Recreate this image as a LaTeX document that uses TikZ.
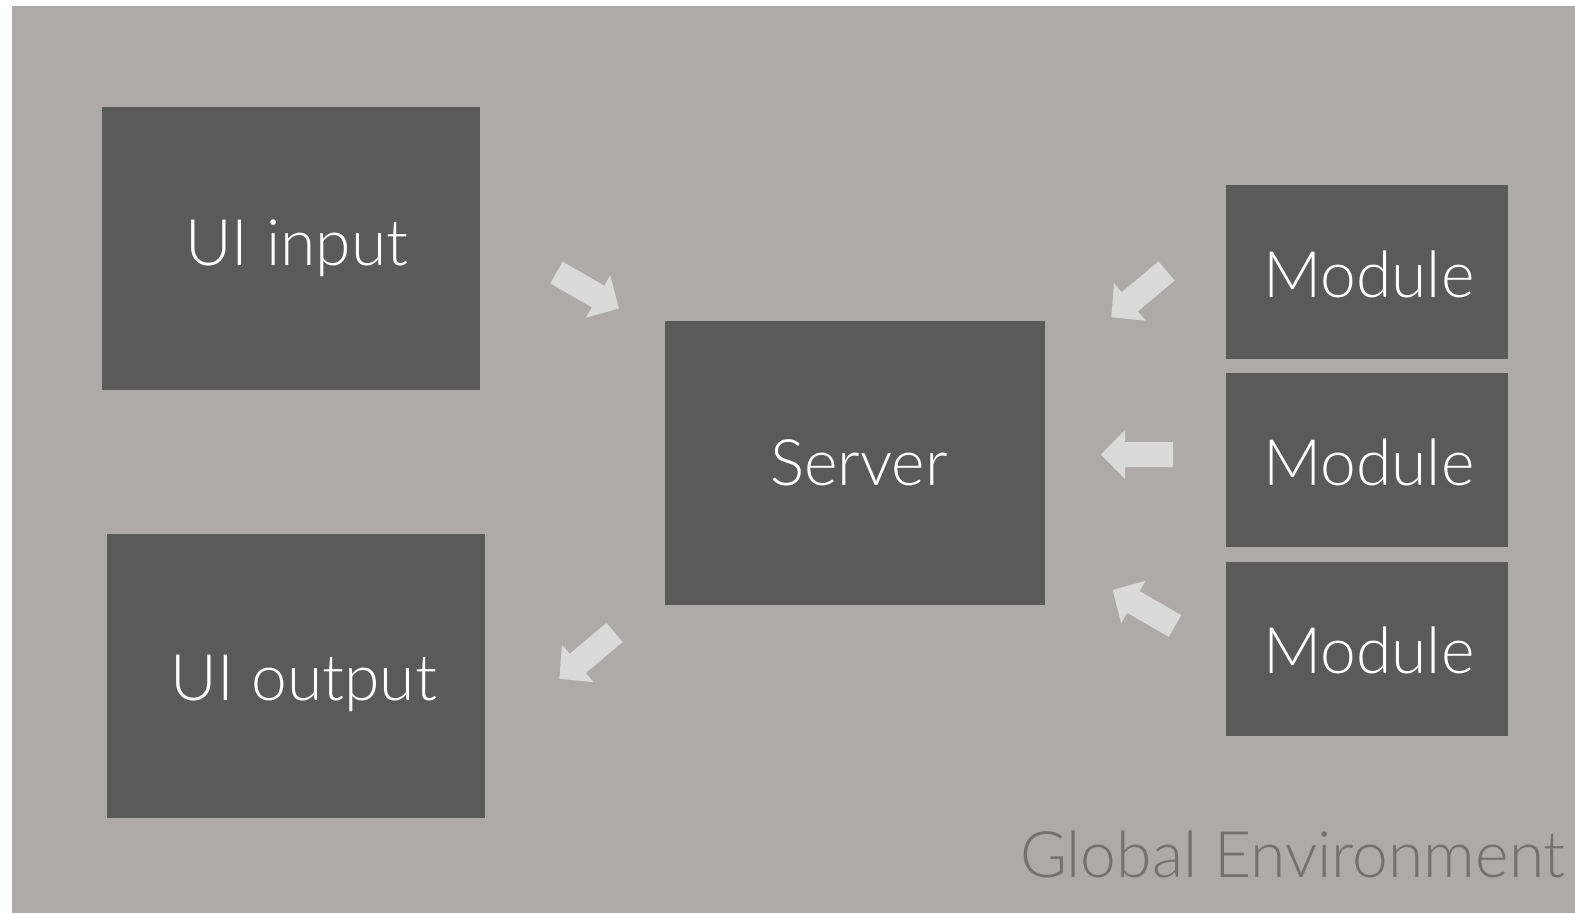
\documentclass[tikz,border=0pt]{standalone}
\usepackage{fontspec}
\IfFontExistsTF{Lato Light}{\setmainfont{Lato Light}}{\setmainfont{Lato}}
\usepackage{tikz}

\definecolor{envgray}{RGB}{174,170,169}
\definecolor{boxgray}{RGB}{90,90,90}
\definecolor{arrowgray}{RGB}{218,218,218}
\definecolor{labelgray}{RGB}{115,112,111}

\begin{document}
\begin{tikzpicture}
[x=0.02cm, y=-0.02cm,
 lbl/.style={text=white, inner sep=0pt, font=\fontsize{36.5}{40}\selectfont},
 block/.style={rectangle, fill=boxgray, inner sep=0pt},
 bigblock/.style={block, minimum width=7.57cm, minimum height=5.67cm},
 modblock/.style={block, minimum width=5.65cm, minimum height=3.48cm},
 fatarrow/.pic={\fill[arrowgray] (0,-12.5)--(48,-12.5)--(48,-24.5)--(72,0)--(48,24.5)--(48,12.5)--(0,12.5)--cycle;},]
\useasboundingbox (0,0) rectangle (1575,914);
\fill[envgray] (12,6) rectangle (1575,913);
\node[bigblock, label={[lbl, xshift=0.12cm]center:UI input}] (in) at (290.75,248.25) {};
\node[bigblock, label={[lbl, xshift=0.16cm, yshift=-0.15cm]center:UI output}] (out) at (295.75,676) {};
\node[bigblock, minimum width=7.6cm, label={[lbl, xshift=0.08cm]center:Server}] (srv) at (855,463) {};
\node[modblock, label={[lbl, xshift=0.04cm, yshift=-0.04cm]center:Module}] (m1) at (1366.75,272) {};
\node[modblock, label={[lbl, xshift=0.04cm, yshift=-0.04cm]center:Module}] (m2) at (1366.75,460) {};
\node[modblock, label={[lbl, xshift=0.04cm, yshift=-0.04cm]center:Module}] (m3) at (1366.75,648.75) {};
\node[lbl, anchor=base east, text=labelgray] (env) at (1566,877) {Global Environment};
% flow arrows
\pic[rotate=-30] at (556.5,272.5) {fatarrow};
\pic[rotate=-140] at (614.5,632.5) {fatarrow};
\pic[rotate=220] at (1166.5,271) {fatarrow};
\pic[rotate=180] at (1173,454.5) {fatarrow};
\pic[rotate=150] at (1175,626) {fatarrow};
\end{tikzpicture}
\end{document}
